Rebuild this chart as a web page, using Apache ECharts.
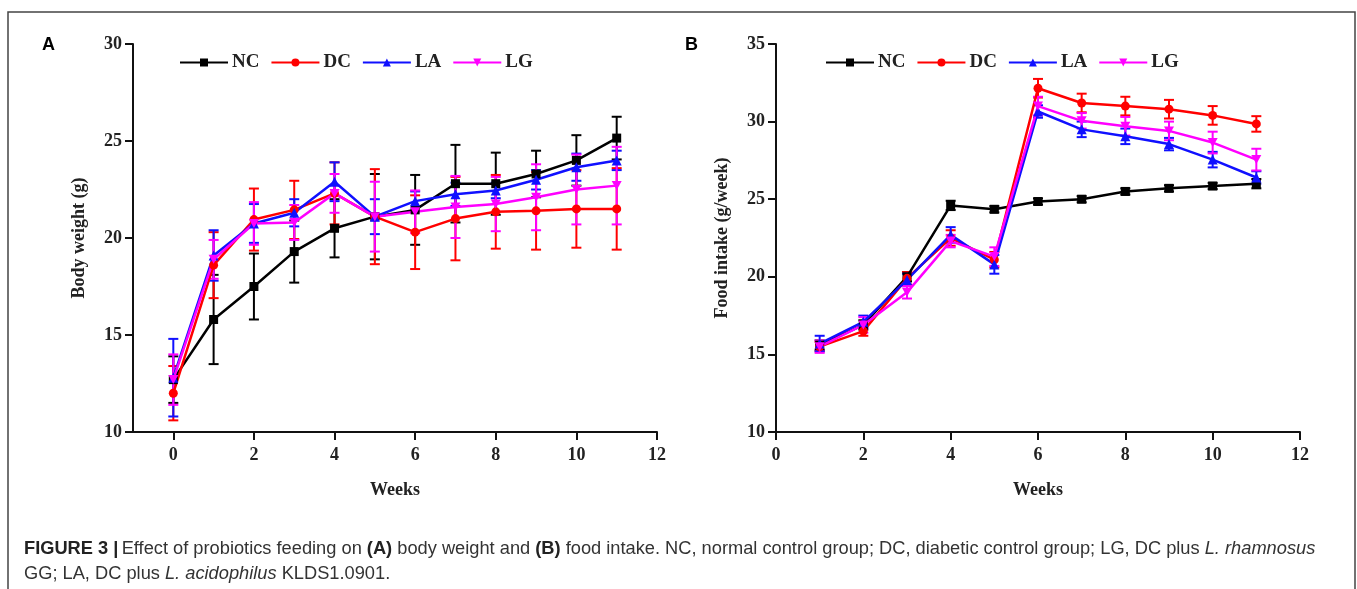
<!DOCTYPE html>
<html>
<head>
<meta charset="utf-8">
<script src="https://cdn.jsdelivr.net/npm/echarts@6/dist/echarts.min.js"></script>
<style>
html,body{margin:0;padding:0;background:#fff;}
#chart{width:1357px;height:589px;}
</style>
</head>
<body>
<div id="chart"></div>
<script>
// ---------- DATA ----------
const groups = ['NC', 'DC', 'LA', 'LG'];

// Panel A: body weight (g), weeks 0..11
const weeksA = [0, 1, 2, 3, 4, 5, 6, 7, 8, 9, 10, 11];
const bwNC = [12.7, 15.8, 17.5, 19.3, 20.5, 21.1, 21.45, 22.8, 22.8, 23.3, 24.0, 25.15];
const bwNCsd = [1.2, 2.3, 1.7, 1.6, 1.5, 2.2, 1.8, 2.0, 1.6, 1.2, 1.3, 1.1];
const bwDC = [12.0, 18.6, 20.95, 21.45, 22.3, 21.1, 20.3, 21.0, 21.35, 21.4, 21.5, 21.5];
const bwDCsd = [1.4, 1.7, 1.6, 1.5, 1.6, 2.45, 1.9, 2.15, 1.9, 2.0, 2.0, 2.1];
const bwLA = [12.8, 19.1, 20.75, 21.3, 22.9, 21.1, 21.9, 22.25, 22.45, 23.0, 23.65, 24.0];
const bwLAsd = [2.0, 1.3, 1.0, 0.7, 1.0, 0.9, 0.5, 0.6, 0.4, 0.5, 0.7, 0.5];
const bwLG = [12.7, 18.9, 20.75, 20.8, 22.3, 21.1, 21.35, 21.6, 21.75, 22.1, 22.5, 22.7];
const bwLGsd = [1.3, 1.0, 1.1, 0.9, 1.0, 1.8, 1.1, 1.6, 1.4, 1.7, 1.8, 2.0];

// Panel B: food intake (g/week), weeks 1..11
const weeksB = [1, 2, 3, 4, 5, 6, 7, 8, 9, 10, 11];
const fiNC = [15.6, 16.9, 20.0, 24.6, 24.35, 24.85, 25.0, 25.5, 25.7, 25.85, 26.0];
const fiNCsd = [0.3, 0.3, 0.3, 0.3, 0.2, 0.2, 0.2, 0.2, 0.2, 0.2, 0.3];
const fiDC = [15.5, 16.5, 19.9, 22.5, 21.1, 32.15, 31.2, 31.0, 30.8, 30.4, 29.85];
const fiDCsd = [0.3, 0.3, 0.4, 0.5, 0.5, 0.6, 0.6, 0.6, 0.6, 0.6, 0.5];
const fiLA = [15.7, 17.1, 19.8, 22.7, 20.8, 30.65, 29.5, 29.05, 28.55, 27.55, 26.4];
const fiLAsd = [0.5, 0.4, 0.4, 0.5, 0.6, 0.4, 0.5, 0.5, 0.4, 0.5, 0.4];
const fiLG = [15.5, 16.9, 19.0, 22.3, 21.3, 31.0, 30.05, 29.7, 29.4, 28.65, 27.55];
const fiLGsd = [0.4, 0.5, 0.4, 0.4, 0.6, 0.6, 0.5, 0.6, 0.6, 0.7, 0.7];

const xTicks = [0, 2, 4, 6, 8, 10, 12];

// ---------- STYLE ----------
const colors = {NC: '#000000', DC: '#ff0000', LA: '#1010ff', LG: '#ff00ff'};
const symbols = {
  NC: 'rect',
  DC: 'circle',
  LA: 'triangle',
  LG: 'path://M0,0 L10,0 L5,9 Z'
};
const serif = '"Liberation Serif", "Times New Roman", serif';
const sans = '"Liberation Sans", Arial, sans-serif';

const panelA = {NC: [bwNC, bwNCsd], DC: [bwDC, bwDCsd], LA: [bwLA, bwLAsd], LG: [bwLG, bwLGsd]};
const panelB = {NC: [fiNC, fiNCsd], DC: [fiDC, fiDCsd], LA: [fiLA, fiLAsd], LG: [fiLG, fiLGsd]};

function errRender(color) {
  return function (params, api) {
    const x = api.value(0), lo = api.value(1), hi = api.value(2);
    const pl = api.coord([x, lo]), ph = api.coord([x, hi]);
    const w = 5;
    const st = {stroke: color, lineWidth: 2};
    return {
      type: 'group',
      children: [
        {type: 'line', shape: {x1: pl[0], y1: pl[1], x2: ph[0], y2: ph[1]}, style: st},
        {type: 'line', shape: {x1: pl[0] - w, y1: pl[1], x2: pl[0] + w, y2: pl[1]}, style: st},
        {type: 'line', shape: {x1: ph[0] - w, y1: ph[1], x2: ph[0] + w, y2: ph[1]}, style: st}
      ]
    };
  };
}

const series = [];
function addPanel(panel, weeks, idx) {
  groups.forEach(g => {
    const [vals, sds] = panel[g];
    series.push({
      type: 'custom',
      name: g + '-err' + idx,
      xAxisIndex: idx, yAxisIndex: idx,
      renderItem: errRender(colors[g]),
      encode: {x: 0, y: [1, 2]},
      data: weeks.map((w, i) => [w, vals[i] - sds[i], vals[i] + sds[i]]),
      z: 2,
      silent: true
    });
  });
  groups.forEach(g => {
    const [vals] = panel[g];
    series.push({
      type: 'line',
      name: g,
      xAxisIndex: idx, yAxisIndex: idx,
      data: weeks.map((w, i) => [w, vals[i]]),
      symbol: symbols[g],
      symbolSize: g === 'LG' ? [10, 9] : (g === 'LA' ? 10 : 9),
      color: colors[g],
      lineStyle: {width: 2.5, color: colors[g]},
      itemStyle: {color: colors[g]},
      z: 3,
      animation: false
    });
  });
}
addPanel(panelA, weeksA, 0);
addPanel(panelB, weeksB, 1);

const axisLineStyle = {show: true, onZero: false, lineStyle: {color: '#111', width: 2}};
const tickLbl = {fontFamily: serif, fontWeight: 'bold', fontSize: 18, color: '#222'};
const nameStyle = {fontFamily: serif, fontWeight: 'bold', fontSize: 18, color: '#222'};

const legendBase = {
  data: groups,
  orient: 'horizontal',
  itemWidth: 48,
  itemHeight: 10,
  itemGap: 11,
  textStyle: {fontFamily: serif, fontWeight: 'bold', fontSize: 19, color: '#222', padding: [0, 0, 0, -1]},
  selectedMode: false,
  padding: 0
};

const capSize = 18.25;

const option = {
  animation: false,
  backgroundColor: '#fff',
  grid: [
    {left: 133, top: 44, right: 700, bottom: 157, containLabel: false},
    {left: 776, top: 44, right: 57, bottom: 157, containLabel: false}
  ],
  xAxis: [
    {
      type: 'value', gridIndex: 0, min: -1, max: 12,
      name: 'Weeks', nameLocation: 'middle', nameGap: 49, nameTextStyle: nameStyle,
      axisLine: axisLineStyle,
      axisTick: {show: true, length: 8, lineStyle: {color: '#111', width: 2}, customValues: xTicks},
      axisLabel: Object.assign({margin: 14, customValues: xTicks}, tickLbl),
      splitLine: {show: false}
    },
    {
      type: 'value', gridIndex: 1, min: 0, max: 12, interval: 2,
      name: 'Weeks', nameLocation: 'middle', nameGap: 49, nameTextStyle: nameStyle,
      axisLine: axisLineStyle,
      axisTick: {show: true, length: 8, lineStyle: {color: '#111', width: 2}},
      axisLabel: Object.assign({margin: 14}, tickLbl),
      splitLine: {show: false}
    }
  ],
  yAxis: [
    {
      type: 'value', gridIndex: 0, min: 10, max: 30, interval: 5,
      name: 'Body weight (g)', nameLocation: 'middle', nameGap: 45, nameTextStyle: nameStyle,
      axisLine: axisLineStyle,
      axisTick: {show: true, length: 8, lineStyle: {color: '#111', width: 2}},
      axisLabel: Object.assign({margin: 11}, tickLbl),
      splitLine: {show: false}
    },
    {
      type: 'value', gridIndex: 1, min: 10, max: 35, interval: 5,
      name: 'Food intake (g/week)', nameLocation: 'middle', nameGap: 45, nameTextStyle: nameStyle,
      axisLine: axisLineStyle,
      axisTick: {show: true, length: 8, lineStyle: {color: '#111', width: 2}},
      axisLabel: Object.assign({margin: 11}, tickLbl),
      splitLine: {show: false}
    }
  ],
  legend: [
    Object.assign({left: 179, top: 53}, legendBase),
    Object.assign({left: 825, top: 53}, legendBase)
  ],
  graphic: [
    {type: 'rect', shape: {x: 8, y: 12, width: 1347, height: 600}, style: {fill: 'none', stroke: '#444', lineWidth: 1.5}, silent: true},
    {type: 'text', left: 42, top: 36, style: {text: 'A', font: 'bold 18px ' + sans, fill: '#000'}},
    {type: 'text', left: 685, top: 36, style: {text: 'B', font: 'bold 18px ' + sans, fill: '#000'}},
    {
      type: 'text', left: 24, top: 540,
      style: {
        text: '{b|FIGURE 3 |} {n|Effect of probiotics feeding on }{b|(A)}{n| body weight and }{b|(B)}{n| food intake. NC, normal control group; DC, diabetic control group; LG, DC plus }{i|L. rhamnosus}',
        rich: {
          b: {fontFamily: sans, fontWeight: 'bold', fontSize: capSize, fill: '#222'},
          n: {fontFamily: sans, fontSize: capSize, fill: '#333'},
          i: {fontFamily: sans, fontStyle: 'italic', fontSize: capSize, fill: '#333'}
        }
      }
    },
    {
      type: 'text', left: 24, top: 565,
      style: {
        text: '{n|GG; LA, DC plus }{i|L. acidophilus}{n| KLDS1.0901.}',
        rich: {
          n: {fontFamily: sans, fontSize: capSize, fill: '#333'},
          i: {fontFamily: sans, fontStyle: 'italic', fontSize: capSize, fill: '#333'}
        }
      }
    }
  ],
  series: series
};

const chart = echarts.init(document.getElementById('chart'), null, {renderer: 'canvas'});
chart.setOption(option);
</script>
</body>
</html>
